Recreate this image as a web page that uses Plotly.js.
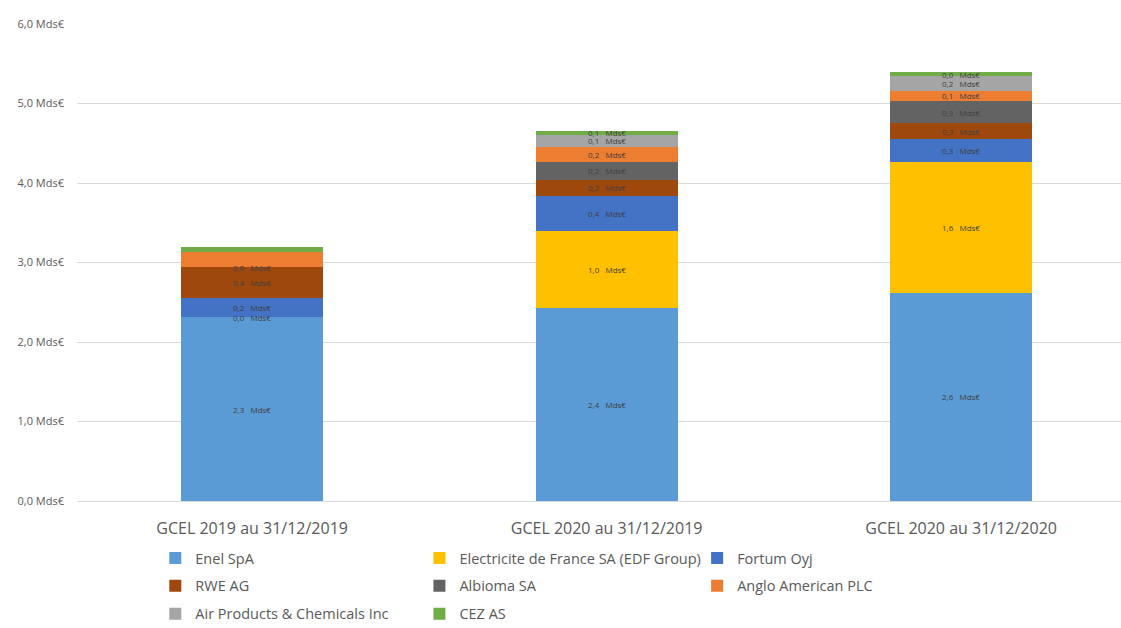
<!DOCTYPE html>
<html>
<head>
<meta charset="utf-8">
<script src="https://cdn.plot.ly/plotly-3.0.1.min.js"></script>
<style>html,body{margin:0;padding:0;background:#fff;}#chart{width:1121px;height:628px;}</style>
</head>
<body>
<div id="chart"></div>
<script>
const categories = ['GCEL 2019 au 31/12/2019', 'GCEL 2020 au 31/12/2019', 'GCEL 2020 au 31/12/2020'];

const seriesNames = ['Enel SpA', 'Electricite de France SA (EDF Group)', 'Fortum Oyj', 'RWE AG',
  'Albioma SA', 'Anglo American PLC', 'Air Products & Chemicals Inc', 'CEZ AS'];

// values in Mds€
const enel = [2.31, 2.43, 2.62];
const edf = [0.00, 0.97, 1.65];
const fortum = [0.24, 0.44, 0.28];
const rwe = [0.39, 0.20, 0.20];
const albioma = [0.00, 0.23, 0.28];
const anglo = [0.19, 0.18, 0.13];
const airProducts = [0.00, 0.16, 0.19];
const cez = [0.06, 0.05, 0.04];

// data labels as printed on the chart (null = not shown)
const enelLabels = ['2,3', '2,4', '2,6'];
const edfLabels = ['0,0', '1,0', '1,6'];
const fortumLabels = ['0,2', '0,4', '0,3'];
const rweLabels = ['0,4', '0,2', '0,3'];
const albiomaLabels = ['0,0', '0,2', '0,3'];
const angloLabels = [null, '0,2', '0,1'];
const airProductsLabels = [null, '0,1', '0,2'];
const cezLabels = [null, '0,1', '0,0'];

const yTicks = [0, 1, 2, 3, 4, 5, 6];
const yTickText = yTicks.map(v => v.toFixed(1).replace('.', ',') + ' Mds€');

const colors = ['#5B9BD5', '#FFC000', '#4472C4', '#9E480E', '#636363', '#ED7D31', '#A5A5A5', '#70AD47'];
const legendOf = ['legend', 'legend2', 'legend3', 'legend', 'legend2', 'legend3', 'legend', 'legend2'];

const seriesValues = [enel, edf, fortum, rwe, albioma, anglo, airProducts, cez];
const seriesLabels = [enelLabels, edfLabels, fortumLabels, rweLabels, albiomaLabels, angloLabels, airProductsLabels, cezLabels];

const traces = seriesValues.map((vals, i) => ({
  type: 'bar',
  name: seriesNames[i],
  x: categories,
  y: vals,
  width: 0.4,
  marker: {color: colors[i], line: {width: 0}},
  legend: legendOf[i],
  legendgroup: 'g' + i,
  hoverinfo: 'x+y+name'
}));

// data label annotations, positioned from cumulative stacks
const annotations = [];
const cumul = categories.map(() => 0);
seriesValues.forEach((vals, i) => {
  vals.forEach((v, j) => {
    const lab = seriesLabels[i][j];
    if (lab !== null) {
      annotations.push({
        x: categories[j], y: cumul[j] + v / 2, xref: 'x', yref: 'y',
        text: lab + '\u00a0\u00a0\u00a0Mds€', showarrow: false,
        font: {family: 'Open Sans, sans-serif', size: 8, color: '#404040'},
        xanchor: 'center', yanchor: 'middle', borderpad: 0
      });
    }
    cumul[j] += v;
  });
});

const legendBase = {
  orientation: 'v', traceorder: 'grouped', tracegroupgap: 6,
  xanchor: 'left', yanchor: 'top', y: -0.086,
  bgcolor: 'rgba(0,0,0,0)', borderwidth: 0,
  font: {family: 'Open Sans, sans-serif', size: 14.5, color: '#595959'}
};

const layout = {
  width: 1121, height: 628,
  margin: {l: 77, r: 0, t: 24, b: 127, autoexpand: false},
  paper_bgcolor: '#ffffff', plot_bgcolor: '#ffffff',
  barmode: 'stack',
  showlegend: true,
  font: {family: 'Open Sans, sans-serif', color: '#595959'},
  xaxis: {
    type: 'category', range: [-0.494, 2.451],
    showgrid: false, zeroline: false, showline: false, ticks: '',
    tickfont: {family: 'Open Sans, sans-serif', size: 16, color: '#595959'},
    ticklabelstandoff: 16
  },
  yaxis: {
    range: [0, 6], tickmode: 'array', tickvals: yTicks, ticktext: yTickText,
    showgrid: true, gridcolor: '#d9d9d9', gridwidth: 1,
    zeroline: true, zerolinecolor: '#d9d9d9', zerolinewidth: 1,
    showline: false, ticks: '',
    tickfont: {family: 'Open Sans, sans-serif', size: 11, color: '#595959'},
    ticklabelstandoff: 12
  },
  legend: Object.assign({}, legendBase, {x: 0.075}),
  legend2: Object.assign({}, legendBase, {x: 0.328}),
  legend3: Object.assign({}, legendBase, {x: 0.594}),
  annotations: annotations
};

Plotly.newPlot('chart', traces, layout, {displayModeBar: false});
</script>
</body>
</html>
